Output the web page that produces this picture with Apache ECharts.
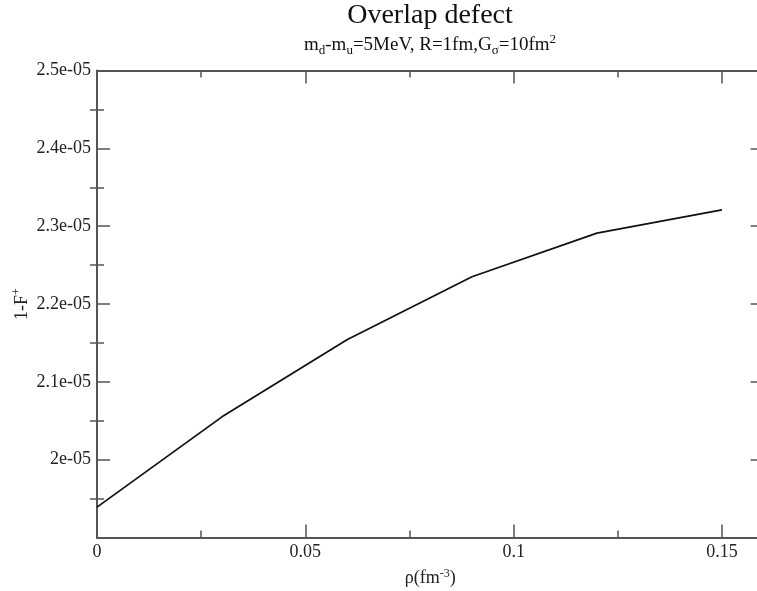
<!DOCTYPE html>
<html>
<head>
<meta charset="utf-8">
<script src="https://cdn.jsdelivr.net/npm/echarts@6/dist/echarts.min.js"></script>
<style>
html,body{margin:0;padding:0;background:#fff;}
#chart{width:757px;height:591px;}
</style>
</head>
<body>
<div id="chart"></div>
<script>
// ---- data ----
const rhoValues = [0, 0.03, 0.06, 0.09, 0.12, 0.15];
const defectValues = [1.939e-5, 2.055e-5, 2.154e-5, 2.235e-5, 2.291e-5, 2.321e-5];
const xMajorTicks = [0, 0.05, 0.1, 0.15];
const xMinorTicks = [0.025, 0.075, 0.125];
const xTickLabels = ['0', '0.05', '0.1', '0.15'];
const yMajorTicks = [1.9e-5, 2.0e-5, 2.1e-5, 2.2e-5, 2.3e-5, 2.4e-5, 2.5e-5];
const yMinorTicks = [1.95e-5, 2.05e-5, 2.15e-5, 2.25e-5, 2.35e-5, 2.45e-5];
const yLabelValues = [2.0e-5, 2.1e-5, 2.2e-5, 2.3e-5, 2.4e-5, 2.5e-5];
const yTickLabels = ['2e-05', '2.1e-05', '2.2e-05', '2.3e-05', '2.4e-05', '2.5e-05'];

const FONT = 'Liberation Serif, Times New Roman, serif';
const AXIS_COLOR = '#555';
const TEXT_COLOR = '#222';

function nearestLabel(values, labels, v) {
  let best = 0, bd = Infinity;
  values.forEach((t, i) => { const d = Math.abs(t - v); if (d < bd) { bd = d; best = i; } });
  return labels[best];
}

const X_MIN = 0, X_MAX = 0.16, Y_MIN = 1.9e-5, Y_MAX = 2.5e-5;

function xAx(pos, ticks, len, opts) {
  return Object.assign({
    type: 'value', position: pos, min: X_MIN, max: X_MAX,
    axisLine: { show: false },
    axisTick: { show: true, inside: true, length: len, customValues: ticks, lineStyle: { color: AXIS_COLOR, width: 1.5 } },
    axisLabel: { show: false },
    splitLine: { show: false }
  }, opts || {});
}
function yAx(pos, ticks, len, opts) {
  return Object.assign({
    type: 'value', position: pos, min: Y_MIN, max: Y_MAX,
    axisLine: { show: false },
    axisTick: { show: true, inside: true, length: len, customValues: ticks, lineStyle: { color: AXIS_COLOR, width: 1.5 } },
    axisLabel: { show: false },
    splitLine: { show: false }
  }, opts || {});
}

const chart = echarts.init(document.getElementById('chart'), null, { renderer: 'canvas' });
chart.setOption({
  animation: false,
  backgroundColor: '#fff',
  grid: { left: 97, top: 70.5, right: -6.6, bottom: 53.5, containLabel: false, outerBoundsMode: 'none' },
  graphic: [
    { type: 'text', x: 430, y: 16, style: { text: 'Overlap defect', font: '28px ' + FONT, fill: '#111', align: 'center', verticalAlign: 'middle' } },
    { type: 'text', x: 430, y: 45, style: {
      text: 'm{sub|d}-m{sub|u}=5MeV, R=1fm,G{sub|σ}=10fm{sup|2}',
      font: '19px ' + FONT, fill: '#111', align: 'center', verticalAlign: 'middle', lineHeight: 24,
      rich: {
        sub: { fontSize: 13, fontFamily: FONT, lineHeight: 12, verticalAlign: 'bottom', fill: '#111' },
        sup: { fontSize: 13, fontFamily: FONT, lineHeight: 12, verticalAlign: 'top', fill: '#111' }
      }
    } }
  ],
  xAxis: [
    xAx('bottom', xMajorTicks, 13, {
      axisLine: { show: true, onZero: false, lineStyle: { color: AXIS_COLOR, width: 2 } },
      axisLabel: { show: true, customValues: xMajorTicks, margin: 6, color: TEXT_COLOR, fontFamily: FONT, fontSize: 18,
        formatter: v => nearestLabel(xMajorTicks, xTickLabels, v) },
      name: 'ρ(fm{sup|-3})', nameLocation: 'middle', nameGap: 30, nameMoveOverlap: false,
      nameTextStyle: { color: TEXT_COLOR, fontFamily: FONT, fontSize: 18, lineHeight: 22,
        rich: { sup: { fontSize: 12, fontFamily: FONT, lineHeight: 10, verticalAlign: 'top', color: TEXT_COLOR } } }
    }),
    xAx('bottom', xMinorTicks, 7),
    xAx('top', xMajorTicks, 13, { axisLine: { show: true, onZero: false, lineStyle: { color: AXIS_COLOR, width: 2 } } }),
    xAx('top', xMinorTicks, 7)
  ],
  yAxis: [
    yAx('left', yMajorTicks, 13, {
      axisLine: { show: true, onZero: false, lineStyle: { color: AXIS_COLOR, width: 2 } },
      axisLabel: { show: true, customValues: yLabelValues, margin: 6, color: TEXT_COLOR, fontFamily: FONT, fontSize: 18,
        formatter: v => nearestLabel(yLabelValues, yTickLabels, v) },
      name: '1-F{sup|+}', nameLocation: 'middle', nameRotate: 90, nameGap: 64, nameMoveOverlap: false,
      nameTextStyle: { color: TEXT_COLOR, fontFamily: FONT, fontSize: 18, lineHeight: 22,
        rich: { sup: { fontSize: 12, fontFamily: FONT, lineHeight: 10, verticalAlign: 'top', color: TEXT_COLOR } } }
    }),
    yAx('left', yMinorTicks, 7),
    yAx('right', yMajorTicks, 13, { axisLine: { show: true, onZero: false, lineStyle: { color: AXIS_COLOR, width: 2 } } }),
    yAx('right', yMinorTicks, 7)
  ],
  series: [{
    type: 'line', xAxisIndex: 0, yAxisIndex: 0,
    data: rhoValues.map((x, i) => [x, defectValues[i]]),
    showSymbol: false, symbol: 'none',
    lineStyle: { color: '#111', width: 1.8 },
    silent: true
  }]
});
</script>
</body>
</html>
